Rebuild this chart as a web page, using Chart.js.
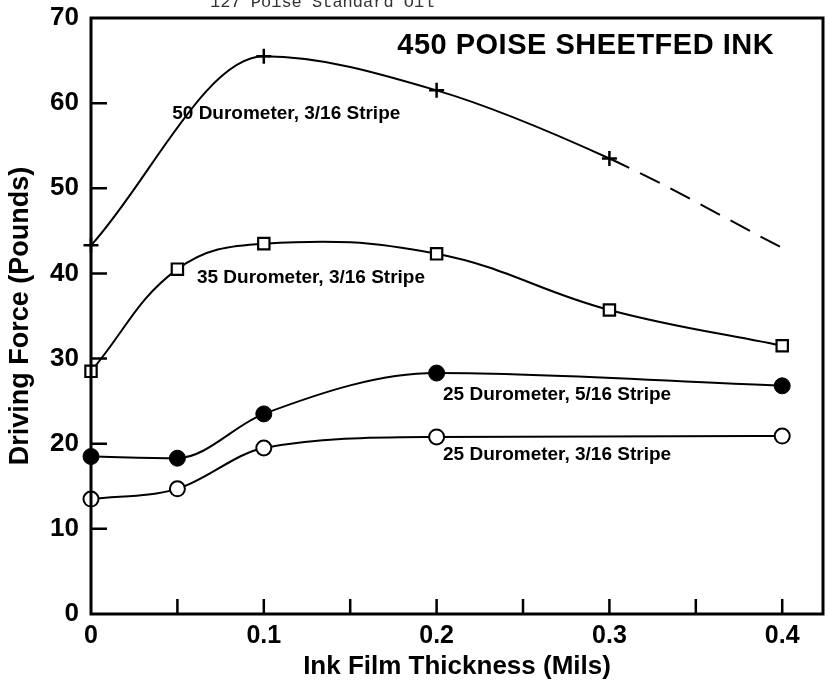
<!DOCTYPE html>
<html>
<head>
<meta charset="utf-8">
<script src="https://cdn.jsdelivr.net/npm/chart.js@4"></script>
<style>
  html, body { margin: 0; padding: 0; background: #fff; }
  #wrap { width: 829px; height: 682px; position: relative; }
</style>
</head>
<body>
<div id="wrap"><canvas id="grafico" width="829" height="682"></canvas></div>
<script>
// ink film thickness (mils) and driving force (pounds) for each roller
const thick50 = [0, 0.1, 0.2, 0.3, 0.4];
const force50 = [43.3, 65.5, 61.5, 53.5, 43.0];
const thick35 = [0, 0.05, 0.1, 0.2, 0.3, 0.4];
const force35 = [28.5, 40.5, 43.5, 42.3, 35.7, 31.5];
const thick25 = [0, 0.05, 0.1, 0.2, 0.4];
const force25ancho = [18.5, 18.3, 23.5, 28.3, 26.8];
const force25angosto = [13.5, 14.7, 19.5, 20.8, 20.9];

const xTicks = [0, 0.1, 0.2, 0.3, 0.4];
const yTicks = [0, 10, 20, 30, 40, 50, 60, 70];

// text written on the plot, placed in data units
const notas = [
  { text: '50 Durometer, 3/16 Stripe', x: 0.047, y: 58.8 },
  { text: '35 Durometer, 3/16 Stripe', x: 0.0613, y: 39.5 },
  { text: '25 Durometer, 5/16 Stripe', x: 0.2037, y: 25.8 },
  { text: '25 Durometer, 3/16 Stripe', x: 0.2037, y: 18.7 }
];
const titulo = { text: '450 POISE SHEETFED INK', x: 0.3953, y: 66.7 };
const encabezado = '127 Poise Standard Oil';

const FUENTE = "'Liberation Sans', Arial, Helvetica, sans-serif";

function puntos(xs, ys) {
  return xs.map((x, i) => ({ x: x, y: ys[i] }));
}

const marcos = {
  id: 'marcos',
  afterDraw(chart) {
    const { ctx, chartArea: a, scales } = chart;
    const sx = scales.x, sy = scales.y;
    ctx.save();
    ctx.strokeStyle = '#000';
    ctx.lineWidth = 3;
    ctx.strokeRect(a.left, a.top, a.right - a.left, a.bottom - a.top);

    // inward tick marks
    ctx.lineWidth = 2.5;
    ctx.beginPath();
    for (let v = 10; v < 70; v += 10) {
      const py = sy.getPixelForValue(v);
      ctx.moveTo(a.left, py);
      ctx.lineTo(a.left + 16, py);
    }
    for (let i = 1; i <= 8; i++) {
      const px = sx.getPixelForValue(i * 0.05);
      ctx.moveTo(px, a.bottom);
      ctx.lineTo(px, a.bottom - 15);
    }
    ctx.stroke();

    // annotations
    ctx.fillStyle = '#000';
    ctx.textBaseline = 'middle';
    ctx.textAlign = 'left';
    ctx.font = 'bold 19px ' + FUENTE;
    notas.forEach(n => {
      ctx.fillText(n.text, sx.getPixelForValue(n.x), sy.getPixelForValue(n.y));
    });
    ctx.textAlign = 'right';
    ctx.font = 'bold 29px ' + FUENTE;
    ctx.letterSpacing = '0.5px';
    ctx.fillText(titulo.text, sx.getPixelForValue(titulo.x), sy.getPixelForValue(titulo.y));
    ctx.letterSpacing = '0px';

    // clipped caption above the frame
    ctx.textAlign = 'left';
    ctx.textBaseline = 'alphabetic';
    ctx.fillStyle = '#333';
    ctx.font = '17px "Liberation Mono", "Courier New", monospace';
    ctx.fillText(encabezado, 210, 7);
    ctx.restore();
  }
};

const ctx = document.getElementById('grafico').getContext('2d');
new Chart(ctx, {
  type: 'line',
  data: {
    datasets: [
      {
        label: '50 Durometer, 3/16 Stripe',
        data: puntos(thick50, force50),
        borderColor: '#000',
        borderWidth: 2,
        cubicInterpolationMode: 'monotone',
        pointStyle: 'cross',
        pointRadius: [7.5, 7.5, 7.5, 7.5, 0],
        pointBorderWidth: 2.5,
        pointBorderColor: '#000',
        segment: {
          borderDash: c => c.p0DataIndex === 3 ? [22, 12] : undefined
        }
      },
      {
        label: '35 Durometer, 3/16 Stripe',
        data: puntos(thick35, force35),
        borderColor: '#000',
        borderWidth: 2,
        tension: 0.4,
        pointStyle: 'rect',
        pointRadius: 8,
        pointBorderWidth: 2.2,
        pointBorderColor: '#000',
        pointBackgroundColor: '#fff'
      },
      {
        label: '25 Durometer, 5/16 Stripe',
        data: puntos(thick25, force25ancho),
        borderColor: '#000',
        borderWidth: 2,
        cubicInterpolationMode: 'monotone',
        pointStyle: 'circle',
        pointRadius: 8,
        pointBorderWidth: 1,
        pointBorderColor: '#000',
        pointBackgroundColor: '#000'
      },
      {
        label: '25 Durometer, 3/16 Stripe',
        data: puntos(thick25, force25angosto),
        borderColor: '#000',
        borderWidth: 2,
        cubicInterpolationMode: 'monotone',
        pointStyle: 'circle',
        pointRadius: 7.5,
        pointBorderWidth: 2,
        pointBorderColor: '#000',
        pointBackgroundColor: '#fff'
      }
    ]
  },
  options: {
    responsive: false,
    animation: false,
    clip: false,
    layout: { autoPadding: false, padding: { top: 18, right: 6, left: 0, bottom: 0 } },
    plugins: { legend: { display: false }, tooltip: { enabled: false } },
    scales: {
      x: {
        type: 'linear',
        min: 0,
        max: 0.4236,
        grid: { display: false, drawTicks: false },
        border: { display: false },
        afterBuildTicks: s => { s.ticks = xTicks.map(v => ({ value: v })); },
        afterFit: s => { s.height = 68; s.paddingLeft = 0; s.paddingRight = 0; },
        ticks: {
          padding: 7,
          color: '#000',
          font: { family: FUENTE, size: 25, weight: 'bold' },
          callback: v => String(v)
        },
        title: {
          display: true,
          text: 'Ink Film Thickness (Mils)',
          color: '#000',
          font: { family: FUENTE, size: 26, weight: 'bold' },
          padding: { top: 0, bottom: 0 }
        }
      },
      y: {
        min: 0,
        max: 70,
        grid: { display: false, drawTicks: false },
        border: { display: false },
        afterBuildTicks: s => { s.ticks = yTicks.map(v => ({ value: v })); },
        afterFit: s => { s.width = 91; s.paddingTop = 0; s.paddingBottom = 0; },
        ticks: {
          padding: 12,
          color: '#000',
          font: { family: FUENTE, size: 26, weight: 'bold' }
        },
        title: {
          display: true,
          text: 'Driving Force (Pounds)',
          color: '#000',
          font: { family: FUENTE, size: 27, weight: 'bold' },
          padding: { top: 4, bottom: 0 }
        }
      }
    }
  },
  plugins: [marcos]
});
</script>
</body>
</html>
